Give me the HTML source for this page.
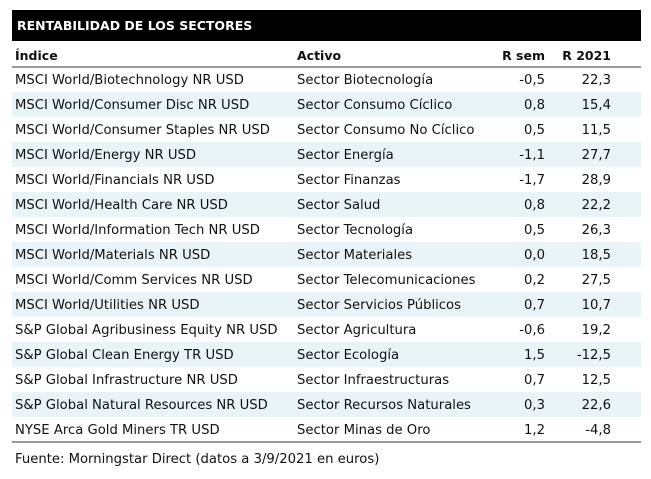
<!DOCTYPE html>
<html><head><meta charset="utf-8"><style>
body{margin:0;width:651px;height:479px;background:#fff;font-family:"DejaVu Sans",Verdana,sans-serif;font-size:13.2px;color:#111;position:relative;overflow:hidden}
.hdr{position:absolute;left:12px;top:10px;width:629px;height:31px;background:#000;color:#fff;font-weight:bold;font-size:12.5px;line-height:32px;padding-left:5px;box-sizing:border-box}
.row{position:absolute;left:12px;width:629px;height:25px;line-height:27px}
.row span{position:absolute;white-space:nowrap}
.a{left:3px}.b{left:285px}.c{right:96px;text-align:right}.d{right:30px;text-align:right}
.alt{background:#e8f4f8}
.th{font-weight:bold;font-size:12.5px;border-bottom:2px solid #999;height:24px}
.foot{position:absolute;left:15px;top:452px}
</style></head><body>
<div class="hdr">RENTABILIDAD DE LOS SECTORES</div>
<div class="row th" style="top:42px"><span class="a">Índice</span><span class="b">Activo</span><span class="c">R sem</span><span class="d">R 2021</span></div>
<div class="row" style="top:67px"><span class="a">MSCI World/Biotechnology NR USD</span><span class="b">Sector Biotecnología</span><span class="c">-0,5</span><span class="d">22,3</span></div>
<div class="row alt" style="top:92px"><span class="a">MSCI World/Consumer Disc NR USD</span><span class="b">Sector Consumo Cíclico</span><span class="c">0,8</span><span class="d">15,4</span></div>
<div class="row" style="top:117px"><span class="a">MSCI World/Consumer Staples NR USD</span><span class="b">Sector Consumo No Cíclico</span><span class="c">0,5</span><span class="d">11,5</span></div>
<div class="row alt" style="top:142px"><span class="a">MSCI World/Energy NR USD</span><span class="b">Sector Energía</span><span class="c">-1,1</span><span class="d">27,7</span></div>
<div class="row" style="top:167px"><span class="a">MSCI World/Financials NR USD</span><span class="b">Sector Finanzas</span><span class="c">-1,7</span><span class="d">28,9</span></div>
<div class="row alt" style="top:192px"><span class="a">MSCI World/Health Care NR USD</span><span class="b">Sector Salud</span><span class="c">0,8</span><span class="d">22,2</span></div>
<div class="row" style="top:217px"><span class="a">MSCI World/Information Tech NR USD</span><span class="b">Sector Tecnología</span><span class="c">0,5</span><span class="d">26,3</span></div>
<div class="row alt" style="top:242px"><span class="a">MSCI World/Materials NR USD</span><span class="b">Sector Materiales</span><span class="c">0,0</span><span class="d">18,5</span></div>
<div class="row" style="top:267px"><span class="a">MSCI World/Comm Services NR USD</span><span class="b">Sector Telecomunicaciones</span><span class="c">0,2</span><span class="d">27,5</span></div>
<div class="row alt" style="top:292px"><span class="a">MSCI World/Utilities NR USD</span><span class="b">Sector Servicios Públicos</span><span class="c">0,7</span><span class="d">10,7</span></div>
<div class="row" style="top:317px"><span class="a">S&amp;P Global Agribusiness Equity NR USD</span><span class="b">Sector Agricultura</span><span class="c">-0,6</span><span class="d">19,2</span></div>
<div class="row alt" style="top:342px"><span class="a">S&amp;P Global Clean Energy TR USD</span><span class="b">Sector Ecología</span><span class="c">1,5</span><span class="d">-12,5</span></div>
<div class="row" style="top:367px"><span class="a">S&amp;P Global Infrastructure NR USD</span><span class="b">Sector Infraestructuras</span><span class="c">0,7</span><span class="d">12,5</span></div>
<div class="row alt" style="top:392px"><span class="a">S&amp;P Global Natural Resources NR USD</span><span class="b">Sector Recursos Naturales</span><span class="c">0,3</span><span class="d">22,6</span></div>
<div class="row" style="top:417px;border-bottom:2px solid #999;height:24px"><span class="a">NYSE Arca Gold Miners TR USD</span><span class="b">Sector Minas de Oro</span><span class="c">1,2</span><span class="d">-4,8</span></div>
<div class="foot">Fuente: Morningstar Direct (datos a 3/9/2021 en euros)</div>
</body></html>
